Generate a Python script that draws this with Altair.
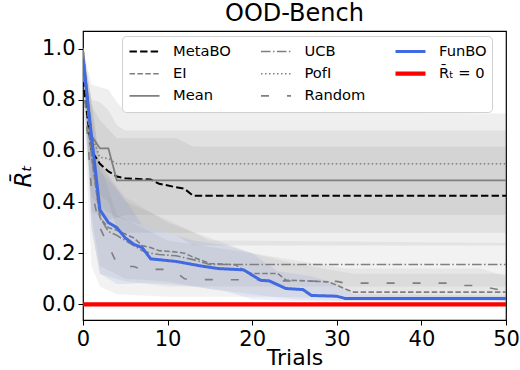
import altair as alt
import pandas as pd

# ---- mean regret curves (trial, value) ----
metabo_t = [0, 1, 2, 3, 4, 5, 8, 9, 11, 12, 13, 50]
metabo_v = [0.88, 0.60, 0.55, 0.52, 0.50, 0.493, 0.488, 0.472, 0.458, 0.452, 0.425, 0.425]

ei_t = [0, 1, 2, 3, 4, 5, 6, 7, 8, 9, 11, 12, 13, 15, 18, 19.5, 20, 23, 24, 29, 30, 31, 32, 50]
ei_v = [0.97, 0.58, 0.34, 0.30, 0.29, 0.275, 0.26, 0.23, 0.222, 0.21, 0.205, 0.20, 0.185,
        0.16, 0.155, 0.122, 0.121, 0.121, 0.095, 0.088, 0.075, 0.06, 0.048, 0.048]

mean_t = [0, 1, 2, 3, 4, 50]
mean_v = [1.0, 0.66, 0.61, 0.61, 0.485, 0.485]

ucb_t = [0, 1, 2, 3, 4, 5, 6, 7, 8, 9, 11, 13, 15, 50]
ucb_v = [1.0, 0.60, 0.34, 0.285, 0.27, 0.25, 0.23, 0.21, 0.20, 0.195, 0.19, 0.175, 0.156, 0.156]

pofi_t = [0, 1, 2, 3, 4, 50]
pofi_v = [1.0, 0.66, 0.575, 0.57, 0.55, 0.55]

random_t = [0, 1, 2, 3, 4, 5, 6, 7, 10, 11, 12, 13, 22, 23, 30, 31, 44, 45, 47, 48, 50]
random_v = [0.90, 0.45, 0.30, 0.23, 0.16, 0.148, 0.148, 0.137, 0.137, 0.125, 0.10, 0.097,
            0.096, 0.092, 0.09, 0.083, 0.083, 0.074, 0.074, 0.065, 0.052]

funbo_t = [0, 1, 2, 3, 4, 5, 6, 7, 8, 11, 14, 16, 19, 21, 22, 24, 26, 27, 30, 31, 50]
funbo_v = [0.96, 0.66, 0.37, 0.32, 0.30, 0.26, 0.235, 0.222, 0.178, 0.168, 0.15, 0.14,
           0.135, 0.094, 0.092, 0.062, 0.058, 0.035, 0.032, 0.023, 0.023]

zero_t = [0, 50]
zero_v = [0.0, 0.0]

# ---- spread bands (trial, lower, upper) ----
pofi_band_t = [0, 1, 3, 4, 5, 50]
pofi_band_lo = [1.0, 0.36, 0.33, 0.34, 0.35, 0.35]
pofi_band_hi = [1.0, 0.86, 0.84, 0.79, 0.755, 0.746]

mean_band_t = [0, 1, 2, 3, 4, 5, 50]
mean_band_lo = [1.0, 0.50, 0.43, 0.40, 0.30, 0.28, 0.28]
mean_band_hi = [1.0, 0.80, 0.79, 0.76, 0.70, 0.68, 0.68]

metabo_band_t = [0, 1, 2, 4, 11, 13, 50]
metabo_band_lo = [0.80, 0.42, 0.38, 0.34, 0.27, 0.23, 0.23]
metabo_band_hi = [0.95, 0.78, 0.72, 0.65, 0.65, 0.617, 0.617]

ucb_band_t = [0, 1, 2, 5, 10, 15, 50]
ucb_band_lo = [1.0, 0.30, 0.12, 0.09, 0.07, 0.07, 0.07]
ucb_band_hi = [1.0, 0.80, 0.55, 0.40, 0.33, 0.25, 0.24]

ei_band_t = [0, 1, 2, 5, 10, 15, 20, 25, 32, 50]
ei_band_lo = [0.95, 0.35, 0.15, 0.10, 0.09, 0.06, 0.04, 0.02, 0.012, 0.012]
ei_band_hi = [1.0, 0.80, 0.55, 0.42, 0.32, 0.26, 0.20, 0.16, 0.12, 0.12]

random_band_t = [0, 1, 2, 4, 10, 20, 31, 47, 50]
random_band_lo = [0.80, 0.15, 0.07, 0.04, 0.03, 0.03, 0.026, 0.026, 0.01]
random_band_hi = [1.0, 0.75, 0.55, 0.35, 0.25, 0.20, 0.14, 0.14, 0.11]

funbo_band_t = [0, 1, 2, 4, 5, 7, 10, 13, 17, 20, 23, 27, 30, 32, 50]
funbo_band_lo = [0.90, 0.30, 0.12, 0.08, 0.08, 0.085, 0.08, 0.07, 0.05, 0.02, 0.015, 0.012, 0.012, 0.012, 0.012]
funbo_band_hi = [1.0, 0.66, 0.52, 0.45, 0.41, 0.31, 0.28, 0.25, 0.23, 0.20, 0.13, 0.11, 0.08, 0.04, 0.035]

ZERO_LABEL = "R\u0304\u209c = 0"

# legend entries (the legend fills its three columns top to bottom)
series_order = ["MetaBO", "EI", "Mean", "UCB", "PofI", "Random", "FunBO", ZERO_LABEL]
series_color = ["black", "#7f7f7f", "#7f7f7f", "#7f7f7f", "#7f7f7f", "#7f7f7f", "#4169e1", "red"]
series_dash = [[7.4, 3.2], [5.5, 2.4], [1, 0], [9.6, 2.4, 1.5, 2.4], [1.5, 2.5], [8, 18], [1, 0], [1, 0]]
series_width = [2.0, 1.6, 1.8, 1.6, 1.6, 1.6, 3.0, 4.2]

curves = {
    "MetaBO": (metabo_t, metabo_v),
    "EI": (ei_t, ei_v),
    "Mean": (mean_t, mean_v),
    "UCB": (ucb_t, ucb_v),
    "PofI": (pofi_t, pofi_v),
    "Random": (random_t, random_v),
    "FunBO": (funbo_t, funbo_v),
    ZERO_LABEL: (zero_t, zero_v),
}

rows = []
for name, (ts, vs) in curves.items():
    for t, v in zip(ts, vs):
        rows.append({"series": name, "trial": t, "regret": v})
lines_df = pd.DataFrame(rows)

x_scale = alt.Scale(domain=[0, 50], nice=False)
y_scale = alt.Scale(domain=[-0.061, 1.069], nice=False, zero=False)

x_axis = alt.Axis(values=[0, 10, 20, 30, 40, 50], title="Trials", grid=False, domain=False,
                  tickColor="black", tickSize=5, labelFontSize=21, titleFontSize=22,
                  labelColor="black", titleColor="black", titleFontWeight="normal",
                  labelPadding=3, titleY=44, titleBaseline="alphabetic", labelFlush=False)
y_axis = alt.Axis(values=[0, 0.2, 0.4, 0.6, 0.8, 1.0], format=".1f", title="R\u0304\u209c",
                  grid=False, domain=False, tickColor="black", tickSize=5, labelFontSize=21,
                  titleFontSize=23, titleFontStyle="italic", labelColor="black",
                  titleColor="black", titleFontWeight="normal", labelPadding=3, titlePadding=6)

legend = alt.Legend(
    title=None, orient="none", legendX=39, legendY=5, columns=3,
    symbolType="stroke", symbolSize=900, labelFontSize=14.7, labelFont="DejaVu Sans",
    labelColor="black", labelOffset=11, columnPadding=27.5, rowPadding=1.2, clipHeight=21,
    fillColor="white", strokeColor="#d0d0d0", cornerRadius=4, padding=5,
)

enc = dict(
    x=alt.X("trial:Q", scale=x_scale, axis=x_axis),
    y=alt.Y("regret:Q", scale=y_scale, axis=y_axis),
    color=alt.Color("series:N", scale=alt.Scale(domain=series_order, range=series_color), legend=legend),
    strokeDash=alt.StrokeDash("series:N", scale=alt.Scale(domain=series_order, range=series_dash), legend=legend),
    strokeWidth=alt.StrokeWidth("series:N", scale=alt.Scale(type="ordinal", domain=series_order, range=series_width), legend=legend),
)


def band_layer(ts, lo, hi, color, opacity):
    df = pd.DataFrame({"trial": ts, "lo": lo, "hi": hi})
    return alt.Chart(df).mark_area(color=color, opacity=opacity, clip=True).encode(
        x=alt.X("trial:Q", scale=x_scale, axis=x_axis),
        y=alt.Y("lo:Q", scale=y_scale, axis=y_axis),
        y2="hi:Q",
    )


gray = "#808080"
bands = [
    band_layer(metabo_band_t, metabo_band_lo, metabo_band_hi, gray, 0.13),
    band_layer(ei_band_t, ei_band_lo, ei_band_hi, gray, 0.10),
    band_layer(mean_band_t, mean_band_lo, mean_band_hi, gray, 0.13),
    band_layer(ucb_band_t, ucb_band_lo, ucb_band_hi, gray, 0.10),
    band_layer(pofi_band_t, pofi_band_lo, pofi_band_hi, gray, 0.13),
    band_layer(random_band_t, random_band_lo, random_band_hi, gray, 0.10),
    band_layer(funbo_band_t, funbo_band_lo, funbo_band_hi, "#4169e1", 0.10),
]

# draw the curves one at a time so FunBO and the zero line sit on top
draw_order = ["MetaBO", "EI", "Mean", "UCB", "PofI", "Random", "FunBO", ZERO_LABEL]
line_layers = [
    alt.Chart(lines_df).transform_filter(alt.datum.series == s).mark_line(clip=True).encode(**enc)
    for s in draw_order
]

chart = alt.layer(*bands, *line_layers).properties(
    width=423, height=289,
    title=alt.Title("OOD-Bench", fontSize=24, font="DejaVu Sans", fontWeight="normal",
                    color="black", offset=5),
    padding={"left": 83, "top": 31, "right": 14, "bottom": 50},
    autosize=alt.AutoSizeParams(type="none"),
).configure(font="DejaVu Sans").configure_view(stroke="black", strokeWidth=1.2)

chart.save("out.html", embed_options={"renderer": "svg", "actions": False})
